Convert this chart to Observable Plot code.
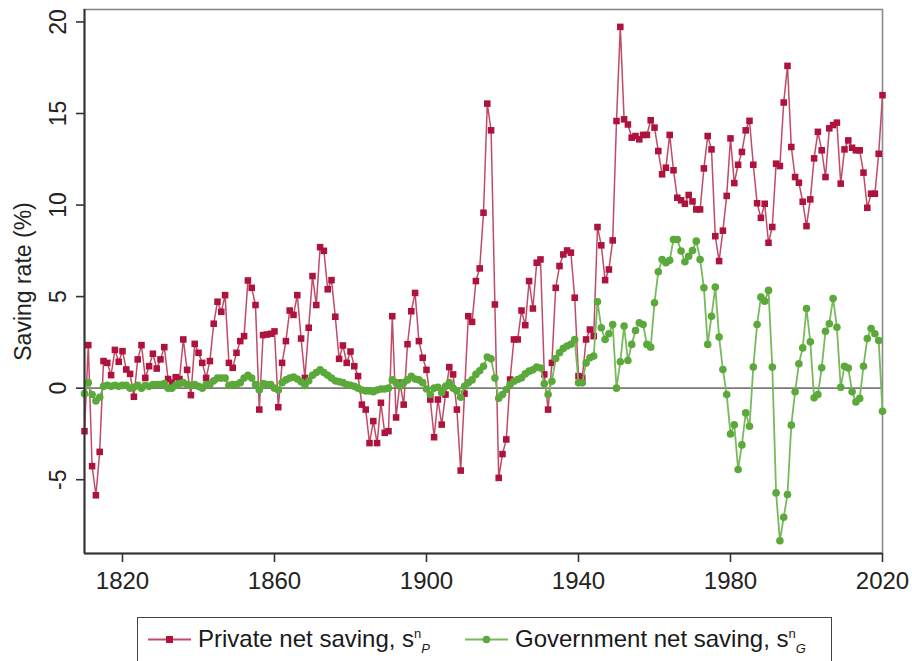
<!DOCTYPE html>
<html><head><meta charset="utf-8">
<script src="https://cdn.jsdelivr.net/npm/d3@7"></script>
<script src="https://cdn.jsdelivr.net/npm/@observablehq/plot@0.6"></script>
<style>
body{margin:0;background:#fff;font-family:"Liberation Sans",Arial,sans-serif;}
#wrap{position:relative;width:912px;height:661px;overflow:hidden;background:#fff;}
#legend{position:absolute;left:137px;top:617px;width:695px;height:48px;border:1.5px solid #444;box-sizing:border-box;font-size:24px;color:#1a1a1a;}
.item{position:absolute;top:7px;display:flex;align-items:center;white-space:nowrap;}
.item svg{margin-right:6px;}
sup,sub{font-size:13px;line-height:0;}
sub{font-style:italic;}
</style></head><body><div id="wrap"></div>
<script>
const firstYear = 1810;
const privateSaving = [
-2.35,2.35,-4.26,-5.85,-3.48,1.48,1.38,0.71,2.09,1.44,
2.02,1.02,0.78,-0.47,1.57,2.35,0.56,1.2,1.88,1.07,
1.57,2.24,0.5,0.3,0.6,0.5,2.66,1.0,-0.38,2.42,
1.93,1.38,0.56,1.48,3.52,4.72,4.17,5.08,1.38,1.11,
1.93,2.57,2.84,5.88,5.48,4.54,-1.17,2.9,2.93,2.97,
3.1,-1.04,1.38,2.57,4.24,4.0,5.08,2.71,0.56,3.3,
6.12,4.54,7.7,7.5,5.4,5.9,3.9,1.6,2.33,1.38,
2.0,1.2,0.66,-0.9,-1.17,-3.0,-1.8,-3.0,-0.8,-2.44,
-2.35,3.93,-1.6,0.3,-0.9,2.4,4.2,5.2,2.57,1.66,
1.0,-0.62,-2.68,-0.62,-1.99,-0.35,1.15,0.75,-1.17,-4.5,
-0.3,3.93,3.62,5.85,6.54,9.58,15.54,14.08,4.57,-4.9,
-3.6,-2.8,0.47,2.66,2.66,4.24,3.44,5.85,4.35,6.85,
7.03,0.75,-1.17,1.38,5.48,6.67,7.3,7.52,7.4,4.94,
0.66,0.56,2.66,3.2,2.84,8.8,7.8,5.9,6.48,8.07,
14.59,19.73,14.68,14.4,13.68,13.77,13.59,13.83,13.83,14.63,
14.23,12.95,11.68,12.04,13.83,11.9,10.4,10.26,10.07,10.55,
10.2,9.76,9.76,12.0,13.77,13.04,8.3,6.94,8.6,10.5,
13.64,11.2,12.2,12.9,14.08,14.6,12.2,10.1,9.3,10.07,
7.94,8.8,12.26,12.13,15.6,17.6,13.17,11.53,11.22,10.18,
8.85,10.31,12.55,14.0,12.99,11.53,14.19,14.37,14.5,11.17,
13.04,13.53,13.13,12.99,12.99,11.77,9.85,10.62,10.62,12.8,
16.0];
const governmentSaving = [
-0.3,0.3,-0.35,-0.7,-0.5,0.1,0.15,0.1,0.15,0.1,
0.15,0.15,0.0,0.05,0.15,0.0,0.15,0.1,0.2,0.2,
0.2,0.25,0.0,0.0,0.15,0.25,0.3,0.2,0.15,0.2,
0.1,0.0,0.2,0.2,0.4,0.55,0.55,0.55,0.15,0.2,
0.2,0.3,0.55,0.7,0.55,0.2,-0.1,0.25,0.2,0.2,
0.0,-0.1,0.3,0.45,0.55,0.6,0.5,0.35,0.15,0.4,
0.7,0.85,1.0,0.85,0.7,0.55,0.4,0.35,0.3,0.2,
0.15,0.1,0.0,-0.1,-0.15,-0.15,-0.2,-0.1,-0.05,-0.05,
0.0,0.45,0.3,0.1,0.3,0.45,0.65,0.5,0.45,0.3,
-0.05,-0.35,0.0,0.05,-0.25,0.1,0.3,0.0,-0.15,-0.5,
0.1,0.3,0.45,0.75,0.95,1.2,1.7,1.6,0.55,-0.55,
-0.35,-0.07,0.2,0.38,0.47,0.56,0.78,0.93,1.0,1.15,
1.1,0.24,-0.35,0.38,1.62,1.93,2.17,2.3,2.4,2.66,
0.29,0.29,1.38,1.66,1.75,4.72,3.3,2.66,2.97,3.48,
0.0,1.44,3.39,1.51,2.39,3.15,3.57,3.48,2.39,2.24,
4.66,6.36,7.03,6.85,6.98,8.12,8.12,7.49,6.9,7.2,
7.52,8.03,7.03,5.48,2.39,3.93,5.52,2.79,1.02,-0.35,
-2.5,-2.0,-4.44,-3.1,-1.35,-2.08,1.15,3.48,4.97,4.75,
5.34,1.15,-5.72,-8.33,-7.05,-5.81,-2.02,-0.2,1.33,2.2,
4.35,2.53,-0.53,-0.35,1.11,3.11,3.52,4.9,3.33,0.05,
1.2,1.1,-0.2,-0.75,-0.56,1.2,2.71,3.26,2.97,2.6,
-1.26];
const xTicks = [1820,1860,1900,1940,1980,2020];
const yTicks = [-5,0,5,10,15,20];
const seriesNames = ["Private net saving, ", "Government net saving, "];
const seriesSubs = ["P", "G"];
const yTitle = "Saving rate (%)";

const rows = privateSaving.map((p,i)=>({year:firstYear+i, p, g:governmentSaving[i]}));
const xDomain = [firstYear, firstYear + privateSaving.length - 1];
const yDomain = [-9.03, 20.68];

const redLine = "#c24a68", redDot = "#ad133d";
const greenLine = "#77ba5c", greenDot = "#5aa93a";

const plot = Plot.plot({
  width: 912, height: 605,
  marginLeft: 84, marginRight: 30, marginTop: 9, marginBottom: 52,
  x: {domain: xDomain, label: null},
  y: {domain: yDomain, label: null},
  style: {fontFamily: "Liberation Sans, Arial, sans-serif", fontSize: "23px", color: "#222", background: "#fff", overflow: "visible"},
  marks: [
    Plot.frame({stroke: "#8a8a8a", strokeWidth: 1.6}),
    Plot.ruleY([0], {stroke: "#7a7a7a", strokeWidth: 1.6}),
    Plot.line(rows, {x: "year", y: "p", stroke: redLine, strokeWidth: 1.5}),
    Plot.dot(rows, {x: "year", y: "p", symbol: "square", r: 3.7, fill: redDot, stroke: "none"}),
    Plot.line(rows, {x: "year", y: "g", stroke: greenLine, strokeWidth: 1.8}),
    Plot.dot(rows, {x: "year", y: "g", r: 3.8, fill: greenDot, stroke: "none"}),
    Plot.axisX({ticks: xTicks, tickFormat: d => String(d), tickSize: 9, tickPadding: 9, fontSize: 24, label: null, stroke: "#333", strokeWidth: 1.6}),
    Plot.axisY({ticks: yTicks, tickSize: 8, tickFormat: () => "", label: null, stroke: "#333", strokeWidth: 1.6}),
    Plot.text(yTicks, {y: d => d, text: d => String(d), frameAnchor: "left", textAnchor: "middle", lineAnchor: "middle", dx: -26, rotate: -90, fontSize: 23, fill: "#222"}),
    Plot.ruleX([xDomain[0]], {stroke: "#333", strokeWidth: 2}),
    Plot.ruleY([yDomain[0]], {stroke: "#333", strokeWidth: 2}),
    Plot.text([yTitle], {frameAnchor: "left", textAnchor: "middle", lineAnchor: "middle", dx: -61, rotate: -90, fontSize: 23, fill: "#222"})
  ]
});
const wrap = document.getElementById("wrap");
wrap.appendChild(plot);

const legend = document.createElement("div");
legend.id = "legend";
function item(left, name, sub, lc, dc, sq){
  const d = document.createElement("div");
  d.className = "item"; d.style.left = left + "px";
  const marker = sq ? `<rect x="18" y="4" width="7" height="7" fill="${dc}"/>` : `<circle cx="21.5" cy="7.5" r="3.8" fill="${dc}"/>`;
  d.innerHTML = `<svg width="44" height="15"><line x1="0" y1="7.5" x2="43" y2="7.5" stroke="${lc}" stroke-width="2"/>${marker}</svg><span>${name}s<sup>n</sup><sub>${sub}</sub></span>`;
  return d;
}
legend.appendChild(item(10, seriesNames[0], seriesSubs[0], redLine, redDot, true));
legend.appendChild(item(327, seriesNames[1], seriesSubs[1], greenLine, greenDot, false));
wrap.appendChild(legend);
</script></body></html>
